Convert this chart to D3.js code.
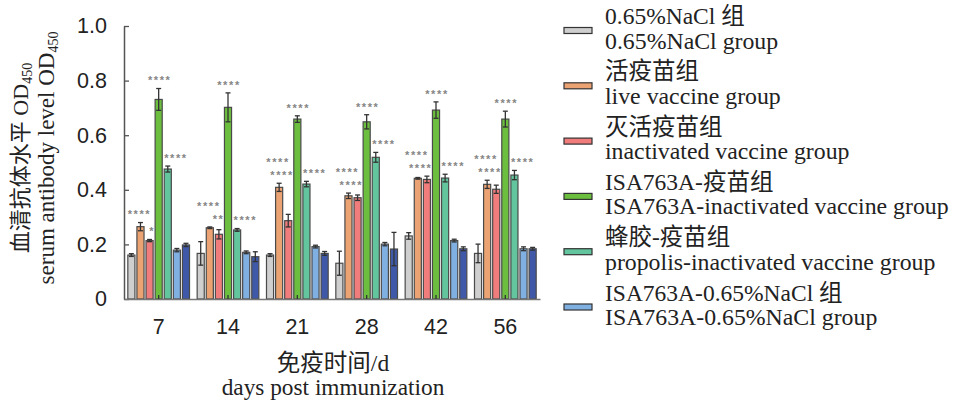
<!DOCTYPE html>
<html>
<head>
<meta charset="utf-8">
<script src="https://cdn.jsdelivr.net/npm/d3@7"></script>
<style>
  html, body { margin: 0; padding: 0; background: #fff; }
  svg { display: block; font-family: "Liberation Serif", "Times New Roman", "Noto Sans CJK SC", serif; }
</style>
</head>
<body>
<svg id="chart" width="953" height="402"></svg>
<script>
// Days post immunization (x categories)
const days = ["7", "14", "21", "28", "42", "56"];
const yTicks = [0, 0.2, 0.4, 0.6, 0.8, 1.0];

// Serum antibody OD450: mean and error per group
const naclMean      = [0.161, 0.167, 0.161, 0.131, 0.231, 0.167];
const naclErr       = [0.005, 0.043, 0.005, 0.044, 0.012, 0.034];
const liveMean      = [0.265, 0.261, 0.409, 0.378, 0.442, 0.420];
const liveErr       = [0.015, 0.003, 0.015, 0.010, 0.003, 0.015];
const inactMean     = [0.214, 0.237, 0.287, 0.371, 0.438, 0.402];
const inactErr      = [0.004, 0.017, 0.023, 0.010, 0.012, 0.015];
const isaMean       = [0.731, 0.702, 0.659, 0.649, 0.692, 0.659];
const isaErr        = [0.040, 0.053, 0.012, 0.026, 0.030, 0.029];
const propolisMean  = [0.476, 0.253, 0.421, 0.519, 0.443, 0.454];
const propolisErr   = [0.011, 0.005, 0.010, 0.018, 0.014, 0.017];
const isaNaclMean   = [0.179, 0.171, 0.192, 0.201, 0.214, 0.184];
const isaNaclErr    = [0.006, 0.005, 0.005, 0.006, 0.005, 0.007];
const seventhMean   = [0.198, 0.155, 0.167, 0.183, 0.184, 0.184];
const seventhErr    = [0.006, 0.018, 0.007, 0.061, 0.007, 0.005];

// Significance marks
const liveSig     = ["****", "****", "****", "****", "****", "****"];
const inactSig    = ["*", "**", "****", "****", "****", "****"];
const isaSig      = ["****", "****", "****", "****", "****", "****"];
const propolisSig = ["****", "****", "****", "****", "****", "****"];

const series = [
  { key: "nacl",     zh: "0.65%NaCl 组",        en: "0.65%NaCl group",                     color: "#cfcfcf", mean: naclMean,     err: naclErr,     legend: true },
  { key: "live",     zh: "活疫苗组",             en: "live vaccine group",                  color: "#eba373", mean: liveMean,     err: liveErr,     legend: true, sig: liveSig,     anchor: "live" },
  { key: "inact",    zh: "灭活疫苗组",           en: "inactivated vaccine group",           color: "#f07c7c", mean: inactMean,    err: inactErr,    legend: true, sig: inactSig,    anchor: "inact" },
  { key: "isa",      zh: "ISA763A-疫苗组",       en: "ISA763A-inactivated vaccine group",   color: "#6cbf3e", mean: isaMean,      err: isaErr,      legend: true, sig: isaSig,      anchor: "mid" },
  { key: "propolis", zh: "蜂胶-疫苗组",          en: "propolis-inactivated vaccine group",  color: "#63c59d", mean: propolisMean, err: propolisErr, legend: true, sig: propolisSig, anchor: "start" },
  { key: "isaNacl",  zh: "ISA763A-0.65%NaCl 组", en: "ISA763A-0.65%NaCl group",             color: "#80b0e2", mean: isaNaclMean,  err: isaNaclErr,  legend: true },
  { key: "seventh",  zh: "",                     en: "",                                    color: "#3f59a8", mean: seventhMean,  err: seventhErr,  legend: false }
];

const svg = d3.select("#chart");

const x0 = d3.scaleBand().domain(days).range([124, 540]).paddingInner(0).paddingOuter(0);
const x1 = d3.scaleBand().domain(series.map(s => s.key)).range([0, x0.bandwidth()])
  .paddingInner(0.22).paddingOuter(0.42);
const y = d3.scaleLinear().domain([0, 1]).range([299, 26]);

// Bars
const groups = svg.append("g").selectAll("g").data(days).join("g")
  .attr("transform", d => `translate(${x0(d)},0)`);

series.forEach(s => {
  groups.append("rect")
    .attr("x", x1(s.key))
    .attr("width", x1.bandwidth())
    .attr("y", (d, i) => y(s.mean[i]))
    .attr("height", (d, i) => y(0) - y(s.mean[i]))
    .attr("fill", s.color)
    .attr("stroke", "#4a4a4a")
    .attr("stroke-width", 1.2);
});

// Error bars
const capW = 5;
series.forEach(s => {
  const cx = x1(s.key) + x1.bandwidth() / 2;
  const eb = groups.append("g").attr("stroke", "#333").attr("stroke-width", 1.3).attr("fill", "none");
  eb.append("line").attr("x1", cx).attr("x2", cx)
    .attr("y1", (d, i) => y(s.mean[i] - s.err[i])).attr("y2", (d, i) => y(s.mean[i] + s.err[i]));
  eb.append("line").attr("x1", cx - capW / 2).attr("x2", cx + capW / 2)
    .attr("y1", (d, i) => y(s.mean[i] + s.err[i])).attr("y2", (d, i) => y(s.mean[i] + s.err[i]));
  eb.append("line").attr("x1", cx - capW / 2).attr("x2", cx + capW / 2)
    .attr("y1", (d, i) => y(s.mean[i] - s.err[i])).attr("y2", (d, i) => y(s.mean[i] - s.err[i]));
});

// Significance stars, stacked so the live/inactivated pair do not collide
const gap = 10.5, row = 13, starShift = 6.4;
const byKey = Object.fromEntries(series.map(s => [s.key, s]));
const topOf = (s, i) => y(s.mean[i] + s.err[i]);
const starG = svg.append("g")
  .attr("font-family", "Liberation Sans, Arial, sans-serif").attr("font-size", 11).attr("font-weight", "bold")
  .attr("fill", "#858585").attr("letter-spacing", 1.6);

days.forEach((d, i) => {
  const gx = x0(d);
  const live = byKey.live, inact = byKey.inact;
  const inactC = inact.sig[i].length > 1 ? Math.min(topOf(inact, i), topOf(live, i)) - gap : topOf(inact, i) - gap;
  const liveC = Math.min(topOf(live, i) - gap, inactC - row);
  const place = (s, cy) => {
    const left = gx + x1(s.key), w = x1.bandwidth();
    let xx, anchor;
    if (s.anchor === "inact") { xx = left + w + 2; anchor = "end"; }
    else if (s.anchor === "start") { xx = left; anchor = "start"; }
    else if (s.anchor === "live") { xx = left + w / 2 - 1; anchor = "middle"; }
    else { xx = left + w / 2 + 1; anchor = "middle"; }
    starG.append("text").attr("x", xx).attr("y", cy + starShift).attr("text-anchor", anchor).text(s.sig[i]);
  };
  place(live, liveC);
  place(inact, inactC);
  place(byKey.isa, topOf(byKey.isa, i) - gap);
  place(byKey.propolis, topOf(byKey.propolis, i) - gap);
});

// Axes
const yAxis = svg.append("g").attr("transform", "translate(124,0)")
  .call(d3.axisLeft(y).tickValues(yTicks).tickFormat(d => d === 0 ? "0" : d3.format(".1f")(d))
    .tickSizeInner(-5).tickSizeOuter(0).tickPadding(17));
yAxis.selectAll("text").attr("font-size", 21.5).attr("fill", "#222").attr("font-family", null);
yAxis.selectAll("line").attr("stroke", "#555").attr("stroke-width", 1.3);
yAxis.select(".domain").attr("stroke", "#555").attr("stroke-width", 1.5);

const xAxis = svg.append("g").attr("transform", "translate(0,299)")
  .call(d3.axisBottom(x0).tickSizeInner(-4).tickSizeOuter(0).tickPadding(20));
xAxis.selectAll("text").attr("font-size", 21.5).attr("fill", "#222").attr("font-family", null);
xAxis.selectAll("line").attr("stroke", "#333").attr("stroke-width", 1.3);
xAxis.select(".domain").attr("stroke", "#777").attr("stroke-width", 1.5);

// Axis titles
const yt1 = svg.append("text").attr("transform", "translate(28,158) rotate(-90)")
  .attr("text-anchor", "middle").attr("font-size", 22).attr("fill", "#222");
yt1.append("tspan").text("血清抗体水平 OD");
yt1.append("tspan").attr("font-size", 14).attr("dy", 4).text("450");
const yt2 = svg.append("text").attr("transform", "translate(53.5,158) rotate(-90)")
  .attr("text-anchor", "middle").attr("font-size", 23).attr("fill", "#222");
yt2.append("tspan").text("serum antibody level OD");
yt2.append("tspan").attr("font-size", 14).attr("dy", 4).text("450");

svg.append("text").attr("x", 333).attr("y", 371).attr("text-anchor", "middle")
  .attr("font-size", 23.5).attr("fill", "#222").text("免疫时间/d");
svg.append("text").attr("x", 333).attr("y", 395).attr("text-anchor", "middle")
  .attr("font-size", 23.3).attr("fill", "#222").text("days post immunization");

// Legend
const legendItems = series.filter(s => s.legend);
const leg = svg.append("g").selectAll("g").data(legendItems).join("g")
  .attr("transform", (d, i) => `translate(0,${30.5 + i * 55.3})`);
leg.append("rect").attr("x", 564).attr("y", -3).attr("width", 28).attr("height", 6)
  .attr("fill", d => d.color).attr("stroke", "#333").attr("stroke-width", 1.2);
leg.append("text").attr("x", 605).attr("y", -6.5).attr("font-size", 23.5).attr("fill", "#222").text(d => d.zh);
leg.append("text").attr("x", 605).attr("y", 18).attr("font-size", 23.8).attr("fill", "#222").text(d => d.en);
</script>
</body>
</html>
